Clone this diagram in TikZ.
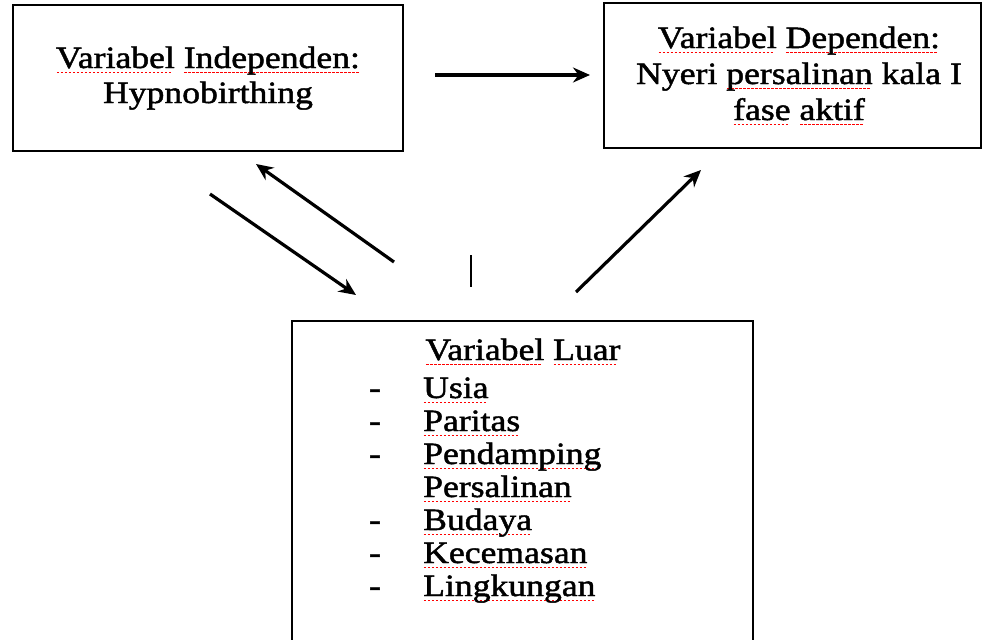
\documentclass[tikz,border=0pt]{standalone}
\usepackage{fontspec}
\setmainfont{Liberation Serif}[FakeStretch=1.15,FakeBold=1.5]
\usetikzlibrary{arrows.meta}
\newcommand\spl[1]{\setbox0=\hbox{#1}\rlap{\color{red}\lower5pt\hbox to\wd0{\leaders\hbox to 4pt{\hss\vrule width2.5pt height1.4pt\hss}\hfill}}\box0\relax}
\tikzset{
  box/.style={draw=black, line width=2.6pt, rectangle, inner sep=0pt},
  txt/.style={anchor=base, inner sep=0pt, font=\fontsize{31}{33}\selectfont},
  ltxt/.style={anchor=base west, inner sep=0pt, font=\fontsize{31}{33}\selectfont},
  arr/.style={draw=black, line width=3.2pt, -{Stealth[length=17pt,width=15pt]}},
}
\begin{document}
\begin{tikzpicture}[x=1pt,y=-1pt]
\useasboundingbox (0,0) rectangle (983,640);
% boxes
\node[box, minimum width=390pt, minimum height=146pt] (indep) at (208,78) {};
\node[box, minimum width=377pt, minimum height=145pt] (dep) at (792.5,75.5) {};
\node[box, minimum width=461pt, minimum height=340pt] (luar) at (522.5,491) {};
% texts box 1
\node[txt] (t1a) at (208,68) {\spl{Variabel} \spl{Independen:}};
\node[txt] (t1b) at (208,103) {Hypnobirthing};
% texts box 2
\node[txt] (t2a) at (799,48) {\spl{Variabel} \spl{Dependen:}};
\node[txt] (t2b) at (799,84) {Nyeri \spl{persalinan} kala I};
\node[txt] (t2c) at (799,120) {\spl{fase} \spl{aktif}};
% texts box 3
\node[txt] (t3) at (523,360) {\spl{Variabel} \spl{Luar}};
\foreach \y/\w [count=\i] in {398/Usia,431/Paritas,464/Pendamping,530/Budaya,563/Kecemasan,596/Lingkungan}{
  \node[txt] (b\i) at (375,\y) {-};
  \node[ltxt] (l\i) at (423,\y) {\spl{\w}};
}
\node[ltxt] (l7) at (423,497) {\spl{Persalinan}};
% arrows
\coordinate (h1) at (435,75);
\coordinate (h2) at (590,75);
\draw[arr] (h1) -- (h2);
\coordinate (a1) at (210,194);
\coordinate (a2) at (356,295);
\draw[arr] (a1) -- (a2);
\coordinate (c1) at (394,262);
\coordinate (c2) at (256,164);
\draw[arr] (c1) -- (c2);
\coordinate (d1) at (576,292);
\coordinate (d2) at (701,170);
\draw[arr] (d1) -- (d2);
\coordinate (v1) at (471,255);
\coordinate (v2) at (471,287);
\draw[line width=1.8pt] (v1) -- (v2);
\end{tikzpicture}
\end{document}
